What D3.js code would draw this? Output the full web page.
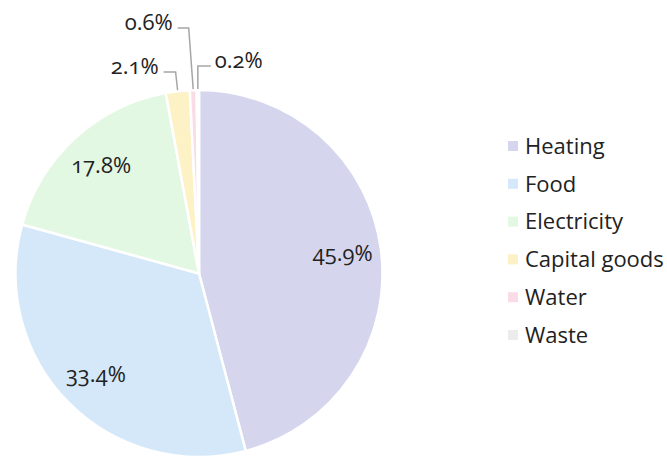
<!DOCTYPE html>
<html>
<head>
<meta charset="utf-8">
<script src="https://cdn.jsdelivr.net/npm/d3@7"></script>
<style>
  body { margin: 0; background: #fff; }
  svg text { font-family: "Open Sans", Lato, sans-serif; fill: #222; font-variant-numeric: oldstyle-nums; }
</style>
</head>
<body>
<div id="chart"></div>
<script>
var categories = ["Heating", "Food", "Electricity", "Capital goods", "Water", "Waste"];
var values = [45.9, 33.4, 17.8, 2.1, 0.6, 0.2];
var colors = ["#d5d6ee", "#d4e8f9", "#e3f8e3", "#fdf1c6", "#fadce6", "#ececed"];

// leader lines for the small slices: elbow position and horizontal run
var leaders = {
    "Capital goods": { elbowY: 72, elbowDx: -2, run: -12 },
    "Water": { elbowY: 28, elbowDx: -4.5, run: -11 },
    "Waste": { elbowY: 66, elbowDx: 0, run: 13 }
};

var width = 667, height = 458;
var cx = 199, cy = 273.5, radius = 183.5;

var svg = d3.select("#chart").append("svg")
    .attr("width", width)
    .attr("height", height);

var data = categories.map(function(c, i) {
    return { name: c, value: values[i], color: colors[i] };
});

var pie = d3.pie().sort(null).value(function(d) { return d.value; });
var arcs = pie(data);

var arc = d3.arc().innerRadius(0).outerRadius(radius);
var labelArc = d3.arc().innerRadius(radius * 0.79).outerRadius(radius * 0.79);
var edgeArc = d3.arc().innerRadius(radius + 1).outerRadius(radius + 1);

var g = svg.append("g").attr("transform", "translate(" + cx + "," + cy + ")");

g.selectAll("path.slice")
    .data(arcs)
    .enter()
    .append("path")
    .attr("class", "slice")
    .attr("d", arc)
    .style("fill", function(d) { return d.data.color; })
    .style("stroke", "#fff")
    .style("stroke-width", 2.5);

// inside labels
g.selectAll("text.inside")
    .data(arcs.filter(function(d) { return !leaders[d.data.name]; }))
    .enter()
    .append("text")
    .attr("class", "inside")
    .attr("transform", function(d) { return "translate(" + labelArc.centroid(d) + ")"; })
    .attr("text-anchor", "middle")
    .attr("dy", "0.3em")
    .style("font-size", "22px")
    .text(function(d) { return d.data.value.toFixed(1) + "%"; });

// outside labels with leader lines
var outside = arcs.filter(function(d) { return leaders[d.data.name]; });

outside.forEach(function(d) {
    var l = leaders[d.data.name];
    var p0 = edgeArc.centroid(d);
    var ey = l.elbowY - cy;
    var p1 = [p0[0] + l.elbowDx, ey];
    var p2 = [p1[0] + l.run, ey];
    g.append("polyline")
        .attr("points", [p0, p1, p2].map(function(p) { return p.join(","); }).join(" "))
        .style("fill", "none")
        .style("stroke", "#a6a6a6")
        .style("stroke-width", 1.5);
    g.append("text")
        .attr("x", p2[0] + (l.run < 0 ? -5 : 4))
        .attr("y", ey - 5)
        .attr("text-anchor", l.run < 0 ? "end" : "start")
        .attr("dy", "0.3em")
        .style("font-size", "22px")
        .text(d.data.value.toFixed(1) + "%");
});

// legend
var legend = svg.append("g").attr("transform", "translate(508,146)");
var rows = legend.selectAll("g")
    .data(data)
    .enter()
    .append("g")
    .attr("transform", function(d, i) { return "translate(0," + (i * 37.8) + ")"; });

rows.append("rect")
    .attr("x", 0)
    .attr("y", -5)
    .attr("width", 10)
    .attr("height", 10)
    .style("fill", function(d) { return d.color; });

rows.append("text")
    .attr("x", 17)
    .attr("dy", "0.35em")
    .style("font-size", "22px")
    .text(function(d) { return d.name; });
</script>
</body>
</html>
